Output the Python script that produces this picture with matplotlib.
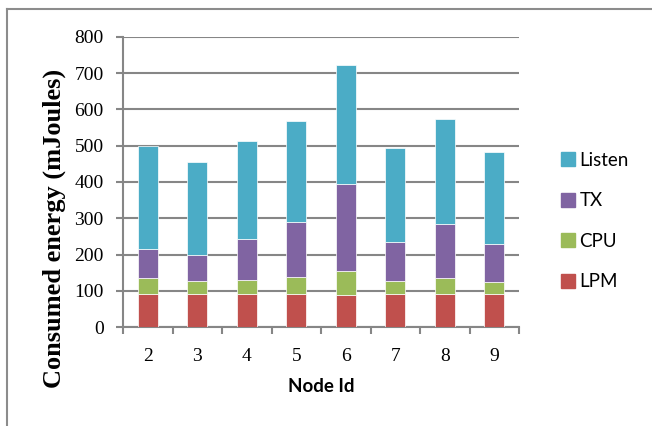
import matplotlib
matplotlib.use('Agg')
import matplotlib.pyplot as plt
from matplotlib.patches import Patch
from matplotlib.lines import Line2D
import numpy as np

nodes = ['2', '3', '4', '5', '6', '7', '8', '9']
lpm = [90, 90, 90, 90, 88, 90, 90, 90]
cpu = [46, 38, 41, 47, 66, 36, 46, 33]
tx = [79, 70, 111, 153, 240, 109, 149, 107]
listen = [283, 258, 272, 278, 328, 259, 290, 254]

series = [('LPM', lpm, '#C0504D'), ('CPU', cpu, '#9BBB59'),
          ('TX', tx, '#8064A2'), ('Listen', listen, '#4BACC6')]

W, H = 652, 426
fig = plt.figure(figsize=(W/100, H/100), dpi=100)
ax = fig.add_axes([123/W, 1-327/H, 396/W, 290/H])

x = np.arange(len(nodes))
bottom = np.zeros(len(nodes))
for name, vals, col in series:
    ax.bar(x, vals, 0.4, bottom=bottom, color=col, edgecolor='white', linewidth=0.5, zorder=3)
    bottom += np.array(vals)

grid_c = '#868686'
ax.set_ylim(0, 800)
ax.set_xlim(-0.5, len(nodes) - 0.5)
ax.set_yticks(range(0, 801, 100))
ax.yaxis.grid(True, color=grid_c, linewidth=1.5, zorder=0)
ax.set_axisbelow(True)
for s in ['top', 'right']:
    ax.spines[s].set_visible(False)
for s in ['left', 'bottom']:
    ax.spines[s].set_color(grid_c)
    ax.spines[s].set_linewidth(1.5)

ax.set_xticks(x)
ax.set_xticklabels(nodes)
ax.set_xticks(np.arange(-0.5, len(nodes), 1), minor=True)
ax.tick_params(axis='x', which='major', length=0, pad=15)
ax.tick_params(axis='x', which='minor', length=5, width=1.5, color=grid_c)
ax.tick_params(axis='y', length=5, width=1.5, color=grid_c, pad=9)
for lab in ax.get_xticklabels() + ax.get_yticklabels():
    lab.set_fontfamily('Liberation Serif')
    lab.set_fontsize(14)

# y label sits lower than the axes centre in the original
fig.text(54/W, 1-228/H, 'Consumed energy (mJoules)', rotation=90,
         ha='center', va='center', fontfamily='Liberation Serif',
         fontweight='bold', fontsize=19)
ax.set_xlabel('Node Id', fontfamily='Lato', fontweight='bold', fontsize=13.5)
ax.xaxis.set_label_coords(0.5, -0.175)

handles = [Patch(color=col, label=name) for name, vals, col in series[::-1]]
fig.legend(handles=handles, loc='upper left', bbox_to_anchor=(544/W, 1-135/H),
           frameon=False, handlelength=0.75, handleheight=0.75, handletextpad=0.25,
           labelspacing=1.25, prop={'family': 'Lato', 'size': 13.5})

# outer frame, cut off at right and bottom
fc = '#8c8c8c'
fig.add_artist(Line2D([7/W, 7/W], [0, 1-9/H], color=fc, lw=1.5, transform=fig.transFigure))
fig.add_artist(Line2D([7/W, 1], [1-9/H, 1-9/H], color=fc, lw=1.5, transform=fig.transFigure))

fig.savefig('out.png', dpi=100)
